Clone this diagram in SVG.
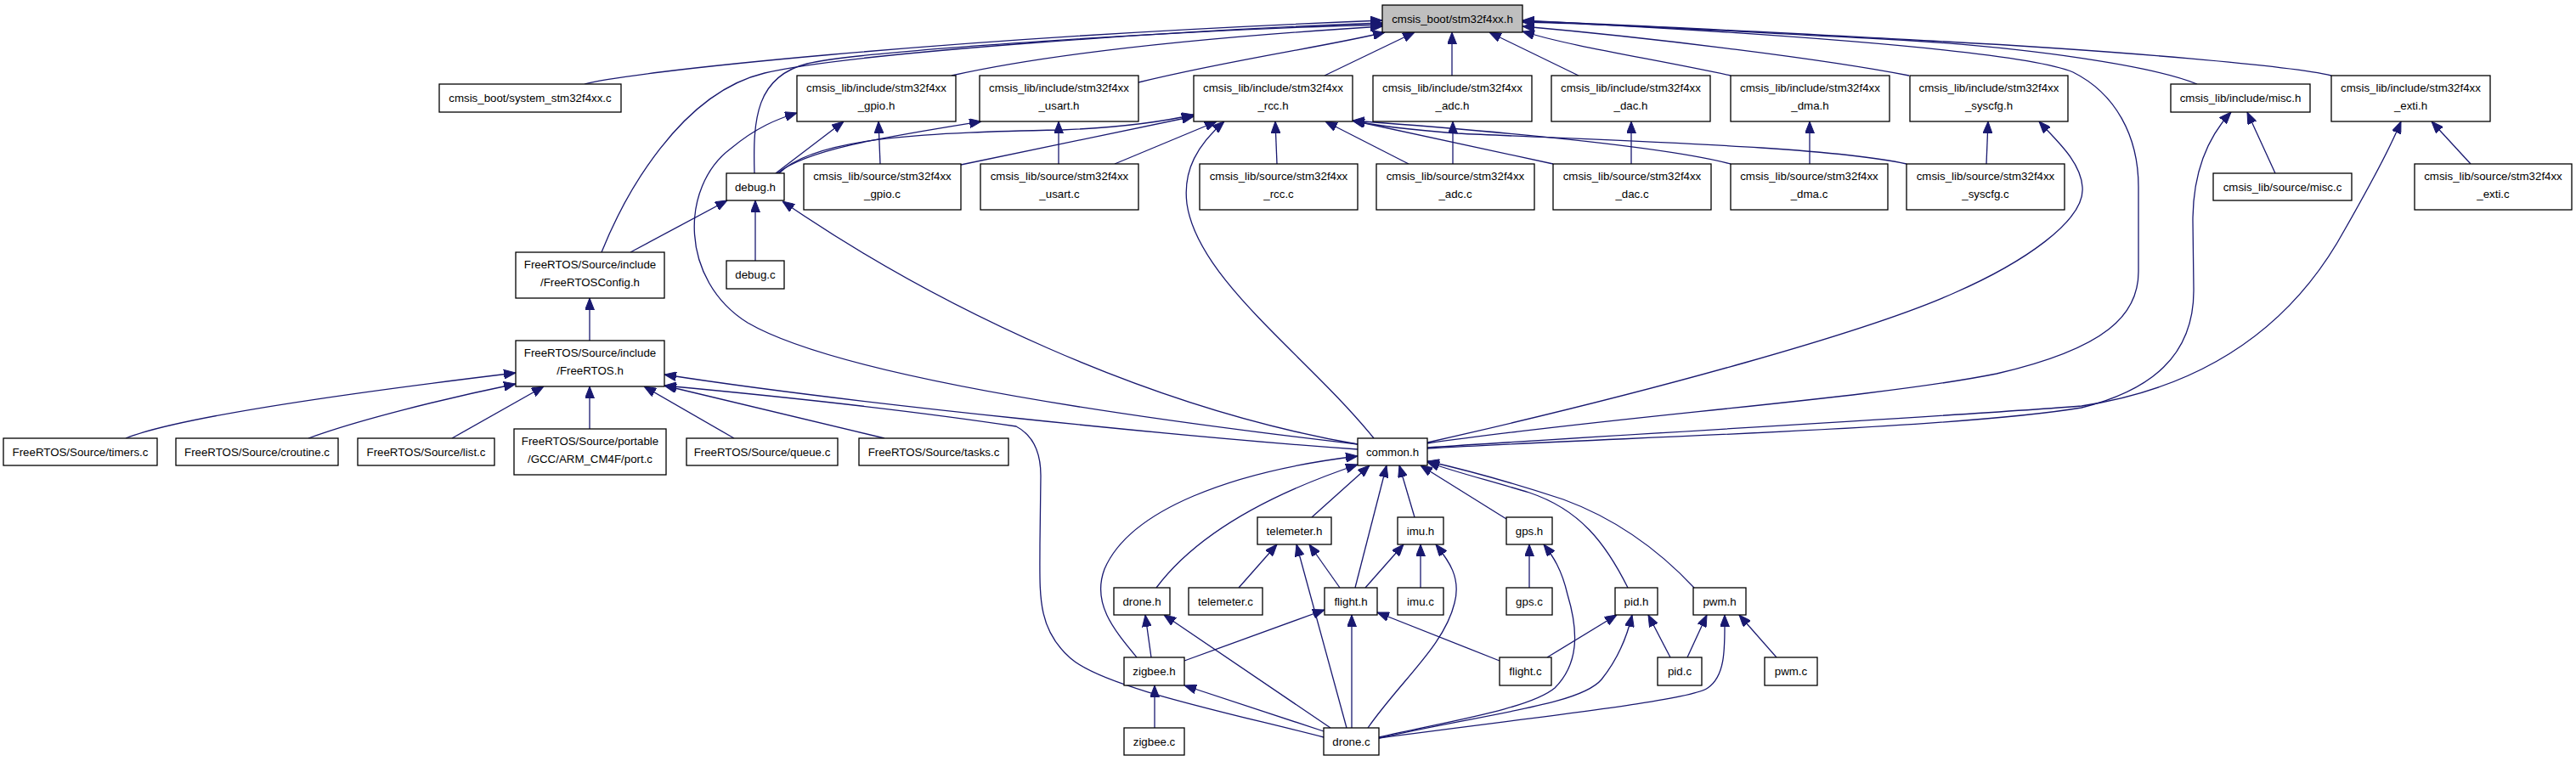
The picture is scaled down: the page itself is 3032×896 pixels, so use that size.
<svg xmlns="http://www.w3.org/2000/svg" width="3032" height="896" viewBox="0 0 3032 896">
<style>
.n rect{fill:#fff;stroke:#000;stroke-width:1.3}
.n.root rect{fill:#bfbfbf}
.n text{font-family:"Liberation Sans",Arial,sans-serif;font-size:13.3px;fill:#000;text-anchor:middle}
#edges path{fill:none;stroke:#191970;stroke-width:1.3;marker-end:url(#ah)}
</style>
<defs>
<marker id="ah" markerWidth="14" markerHeight="11" refX="14" refY="5.5" orient="auto" markerUnits="userSpaceOnUse"><path d="M0,0 L14,5.5 L0,11 z" fill="#191970" stroke="#191970" stroke-width="1"/></marker>
</defs>
<rect width="3032" height="896" fill="#fff"/>
<g id="edges">
<path d="M688,99 C730,86 1100,45 1627,24"/>
<path d="M708,297 C735,230 800,110 900,86 S1400,35 1627,27"/>
<path d="M888,204 C886,140 890,90 950,75 S1400,35 1627,29"/>
<path d="M1120,89 C1250,60 1450,42 1627,31"/>
<path d="M1340,97 C1450,70 1560,55 1630,38"/>
<path d="M1559,89 L1665,38"/>
<path d="M1709,89 L1709,38"/>
<path d="M1858,89 L1753,38"/>
<path d="M2037,89 C1950,70 1850,55 1792,37"/>
<path d="M2247,89 C2150,70 1950,45 1792,31"/>
<path d="M2586,99 C2540,80 2400,55 2200,45 S1900,28 1792,26"/>
<path d="M2744,89 C2700,78 2500,60 2272,48 S1900,28 1792,25"/>
<path d="M1680,522 C1900,490 2200,470 2350,440 C2480,410 2517,370 2517,320 L2517,220 C2517,160 2490,110 2440,85 C2380,60 2100,40 1792,24"/>
<path d="M1680,521 C1950,460 2200,390 2300,345 C2380,310 2455,260 2451,220 C2449,190 2420,165 2400,143"/>
<path d="M1680,528 C1900,515 2300,505 2450,480 C2530,460 2583,420 2582,340 L2581,260 C2581,200 2600,160 2626,132"/>
<path d="M1680,527 C1900,512 2300,490 2450,478 C2600,455 2700,380 2760,270 C2800,200 2815,170 2826,143"/>
<path d="M1617,516 C1540,420 1410,330 1397,240 C1392,200 1410,170 1441,143"/>
<path d="M1598,523 C1400,500 1000,450 880,380 C800,330 800,220 860,175 C890,150 915,140 938,133"/>
<path d="M1598,523 C1350,480 1100,360 921,237"/>
<path d="M1598,529 C1400,515 1000,475 782,441"/>
<path d="M1558,868 C1450,840 1300,810 1260,775 C1220,740 1224,700 1224,640 L1225,560 C1225,530 1215,512 1196,502 C1050,480 900,465 782,454"/>
<path d="M1041,516 L782,454"/>
<path d="M864,516 L758,455"/>
<path d="M694,505 L694,455"/>
<path d="M532,516 L640,455"/>
<path d="M363,516 C420,495 520,470 607,452"/>
<path d="M148,516 C200,495 350,470 607,439"/>
<path d="M694,401 L694,351"/>
<path d="M742,297 L856,236"/>
<path d="M889,307 L889,236"/>
<path d="M913,204 L993,143"/>
<path d="M915,204 C950,175 1050,160 1155,143"/>
<path d="M917,204 C960,160 1100,156 1250,153 C1320,150 1370,143 1405,135"/>
<path d="M1131,194 L1405,137"/>
<path d="M1036,193 L1034,143"/>
<path d="M1246,193 L1246,143"/>
<path d="M1312,193 L1432,143"/>
<path d="M1503,193 L1501,143"/>
<path d="M1658,193 L1560,143"/>
<path d="M1828,193 L1592,142"/>
<path d="M2037,193 C1950,170 1700,150 1592,142"/>
<path d="M2244,193 C2150,172 1900,166 1714,157 C1650,152 1610,146 1592,142"/>
<path d="M1710,193 L1710,143"/>
<path d="M1920,193 L1920,143"/>
<path d="M2130,193 L2130,143"/>
<path d="M2338,193 L2340,143"/>
<path d="M2678,204 L2645,132"/>
<path d="M2908,193 L2862,143"/>
<path d="M1338,774 C1310,740 1285,710 1300,670 C1330,600 1450,555 1598,537"/>
<path d="M1361,692 C1400,640 1470,590 1598,547"/>
<path d="M1544,609 L1612,548"/>
<path d="M1595,692 L1632,548"/>
<path d="M1665,609 L1647,548"/>
<path d="M1773,611 L1672,548"/>
<path d="M1916,692 C1890,640 1860,600 1800,580 C1750,565 1710,555 1680,544"/>
<path d="M1994,692 C1950,645 1900,610 1840,588 C1770,565 1720,552 1680,543"/>
<path d="M1355,774 L1348,724"/>
<path d="M1566,857 L1370,724"/>
<path d="M1458,692 L1503,641"/>
<path d="M1585,857 L1526,641"/>
<path d="M1577,692 L1541,641"/>
<path d="M1607,692 L1652,641"/>
<path d="M1672,692 L1672,641"/>
<path d="M1610,857 C1650,800 1700,760 1712,710 C1720,680 1705,660 1690,641"/>
<path d="M1800,692 L1800,641"/>
<path d="M1623,868 C1700,850 1800,835 1830,810 C1860,780 1857,740 1845,700 C1838,670 1828,655 1817,641"/>
<path d="M1591,857 L1591,724"/>
<path d="M1765,778 L1621,721"/>
<path d="M1394,778 L1559,718"/>
<path d="M1821,774 L1903,724"/>
<path d="M1623,869 C1750,840 1860,830 1885,800 C1905,775 1915,750 1921,724"/>
<path d="M1966,774 L1940,724"/>
<path d="M1986,774 L2009,724"/>
<path d="M1623,869 C1800,845 1990,825 2010,810 C2032,795 2030,760 2030,724"/>
<path d="M2091,774 L2047,724"/>
<path d="M1359,857 L1359,807"/>
<path d="M1558,861 L1394,807"/>
</g>
<g id="n_root" class="n root"><rect x="1627" y="6" width="165" height="32"/><text x="1709.5" y="26.7">cmsis_boot/stm32f4xx.h</text></g>
<g id="n_system_c" class="n"><rect x="517" y="99" width="214" height="33"/><text x="624" y="120.2">cmsis_boot/system_stm32f4xx.c</text></g>
<g id="n_gpio_h" class="n"><rect x="938" y="89" width="187" height="54"/><text x="1031.5" y="107.7">cmsis_lib/include/stm32f4xx</text><text x="1031.5" y="128.7">_gpio.h</text></g>
<g id="n_usart_h" class="n"><rect x="1153" y="89" width="187" height="54"/><text x="1246.5" y="107.7">cmsis_lib/include/stm32f4xx</text><text x="1246.5" y="128.7">_usart.h</text></g>
<g id="n_rcc_h" class="n"><rect x="1405" y="89" width="187" height="54"/><text x="1498.5" y="107.7">cmsis_lib/include/stm32f4xx</text><text x="1498.5" y="128.7">_rcc.h</text></g>
<g id="n_adc_h" class="n"><rect x="1616" y="89" width="187" height="54"/><text x="1709.5" y="107.7">cmsis_lib/include/stm32f4xx</text><text x="1709.5" y="128.7">_adc.h</text></g>
<g id="n_dac_h" class="n"><rect x="1826" y="89" width="187" height="54"/><text x="1919.5" y="107.7">cmsis_lib/include/stm32f4xx</text><text x="1919.5" y="128.7">_dac.h</text></g>
<g id="n_dma_h" class="n"><rect x="2037" y="89" width="187" height="54"/><text x="2130.5" y="107.7">cmsis_lib/include/stm32f4xx</text><text x="2130.5" y="128.7">_dma.h</text></g>
<g id="n_syscfg_h" class="n"><rect x="2248" y="89" width="186" height="54"/><text x="2341" y="107.7">cmsis_lib/include/stm32f4xx</text><text x="2341" y="128.7">_syscfg.h</text></g>
<g id="n_misc_h" class="n"><rect x="2555" y="99" width="164" height="33"/><text x="2637" y="120.2">cmsis_lib/include/misc.h</text></g>
<g id="n_exti_h" class="n"><rect x="2744" y="89" width="187" height="54"/><text x="2837.5" y="107.7">cmsis_lib/include/stm32f4xx</text><text x="2837.5" y="128.7">_exti.h</text></g>
<g id="n_debug_h" class="n"><rect x="855" y="204" width="68" height="32"/><text x="889" y="224.7">debug.h</text></g>
<g id="n_gpio_c" class="n"><rect x="946" y="193" width="185" height="54"/><text x="1038.5" y="211.7">cmsis_lib/source/stm32f4xx</text><text x="1038.5" y="232.7">_gpio.c</text></g>
<g id="n_usart_c" class="n"><rect x="1154" y="193" width="186" height="54"/><text x="1247" y="211.7">cmsis_lib/source/stm32f4xx</text><text x="1247" y="232.7">_usart.c</text></g>
<g id="n_rcc_c" class="n"><rect x="1412" y="193" width="186" height="54"/><text x="1505" y="211.7">cmsis_lib/source/stm32f4xx</text><text x="1505" y="232.7">_rcc.c</text></g>
<g id="n_adc_c" class="n"><rect x="1620" y="193" width="186" height="54"/><text x="1713" y="211.7">cmsis_lib/source/stm32f4xx</text><text x="1713" y="232.7">_adc.c</text></g>
<g id="n_dac_c" class="n"><rect x="1828" y="193" width="186" height="54"/><text x="1921" y="211.7">cmsis_lib/source/stm32f4xx</text><text x="1921" y="232.7">_dac.c</text></g>
<g id="n_dma_c" class="n"><rect x="2037" y="193" width="185" height="54"/><text x="2129.5" y="211.7">cmsis_lib/source/stm32f4xx</text><text x="2129.5" y="232.7">_dma.c</text></g>
<g id="n_syscfg_c" class="n"><rect x="2244" y="193" width="186" height="54"/><text x="2337" y="211.7">cmsis_lib/source/stm32f4xx</text><text x="2337" y="232.7">_syscfg.c</text></g>
<g id="n_misc_c" class="n"><rect x="2605" y="204" width="163" height="32"/><text x="2686.5" y="224.7">cmsis_lib/source/misc.c</text></g>
<g id="n_exti_c" class="n"><rect x="2842" y="193" width="185" height="54"/><text x="2934.5" y="211.7">cmsis_lib/source/stm32f4xx</text><text x="2934.5" y="232.7">_exti.c</text></g>
<g id="n_debug_c" class="n"><rect x="855" y="307" width="68" height="33"/><text x="889" y="328.2">debug.c</text></g>
<g id="n_freertosconfig_h" class="n"><rect x="607" y="297" width="175" height="54"/><text x="694.5" y="315.7">FreeRTOS/Source/include</text><text x="694.5" y="336.7">/FreeRTOSConfig.h</text></g>
<g id="n_freertos_h" class="n"><rect x="607" y="401" width="175" height="54"/><text x="694.5" y="419.7">FreeRTOS/Source/include</text><text x="694.5" y="440.7">/FreeRTOS.h</text></g>
<g id="n_timers_c" class="n"><rect x="4" y="516" width="181" height="32"/><text x="94.5" y="536.7">FreeRTOS/Source/timers.c</text></g>
<g id="n_croutine_c" class="n"><rect x="207" y="516" width="191" height="32"/><text x="302.5" y="536.7">FreeRTOS/Source/croutine.c</text></g>
<g id="n_list_c" class="n"><rect x="421" y="516" width="161" height="32"/><text x="501.5" y="536.7">FreeRTOS/Source/list.c</text></g>
<g id="n_port_c" class="n"><rect x="605" y="505" width="179" height="54"/><text x="694.5" y="523.7">FreeRTOS/Source/portable</text><text x="694.5" y="544.7">/GCC/ARM_CM4F/port.c</text></g>
<g id="n_queue_c" class="n"><rect x="808" y="516" width="178" height="32"/><text x="897" y="536.7">FreeRTOS/Source/queue.c</text></g>
<g id="n_tasks_c" class="n"><rect x="1011" y="516" width="176" height="32"/><text x="1099" y="536.7">FreeRTOS/Source/tasks.c</text></g>
<g id="n_common_h" class="n"><rect x="1598" y="516" width="82" height="32"/><text x="1639" y="536.7">common.h</text></g>
<g id="n_telemeter_h" class="n"><rect x="1480" y="609" width="87" height="32"/><text x="1523.5" y="629.7">telemeter.h</text></g>
<g id="n_imu_h" class="n"><rect x="1645" y="609" width="54" height="32"/><text x="1672" y="629.7">imu.h</text></g>
<g id="n_gps_h" class="n"><rect x="1773" y="609" width="54" height="32"/><text x="1800" y="629.7">gps.h</text></g>
<g id="n_drone_h" class="n"><rect x="1311" y="692" width="66" height="32"/><text x="1344" y="712.7">drone.h</text></g>
<g id="n_telemeter_c" class="n"><rect x="1399" y="692" width="87" height="32"/><text x="1442.5" y="712.7">telemeter.c</text></g>
<g id="n_flight_h" class="n"><rect x="1559" y="692" width="62" height="32"/><text x="1590" y="712.7">flight.h</text></g>
<g id="n_imu_c" class="n"><rect x="1645" y="692" width="54" height="32"/><text x="1672" y="712.7">imu.c</text></g>
<g id="n_gps_c" class="n"><rect x="1773" y="692" width="54" height="32"/><text x="1800" y="712.7">gps.c</text></g>
<g id="n_pid_h" class="n"><rect x="1901" y="692" width="50" height="32"/><text x="1926" y="712.7">pid.h</text></g>
<g id="n_pwm_h" class="n"><rect x="1993" y="692" width="62" height="32"/><text x="2024" y="712.7">pwm.h</text></g>
<g id="n_zigbee_h" class="n"><rect x="1323" y="774" width="71" height="33"/><text x="1358.5" y="795.2">zigbee.h</text></g>
<g id="n_flight_c" class="n"><rect x="1765" y="774" width="61" height="33"/><text x="1795.5" y="795.2">flight.c</text></g>
<g id="n_pid_c" class="n"><rect x="1951" y="774" width="52" height="33"/><text x="1977" y="795.2">pid.c</text></g>
<g id="n_pwm_c" class="n"><rect x="2077" y="774" width="62" height="33"/><text x="2108" y="795.2">pwm.c</text></g>
<g id="n_zigbee_c" class="n"><rect x="1323" y="857" width="71" height="32"/><text x="1358.5" y="877.7">zigbee.c</text></g>
<g id="n_drone_c" class="n"><rect x="1558" y="857" width="65" height="32"/><text x="1590.5" y="877.7">drone.c</text></g>
</svg>
